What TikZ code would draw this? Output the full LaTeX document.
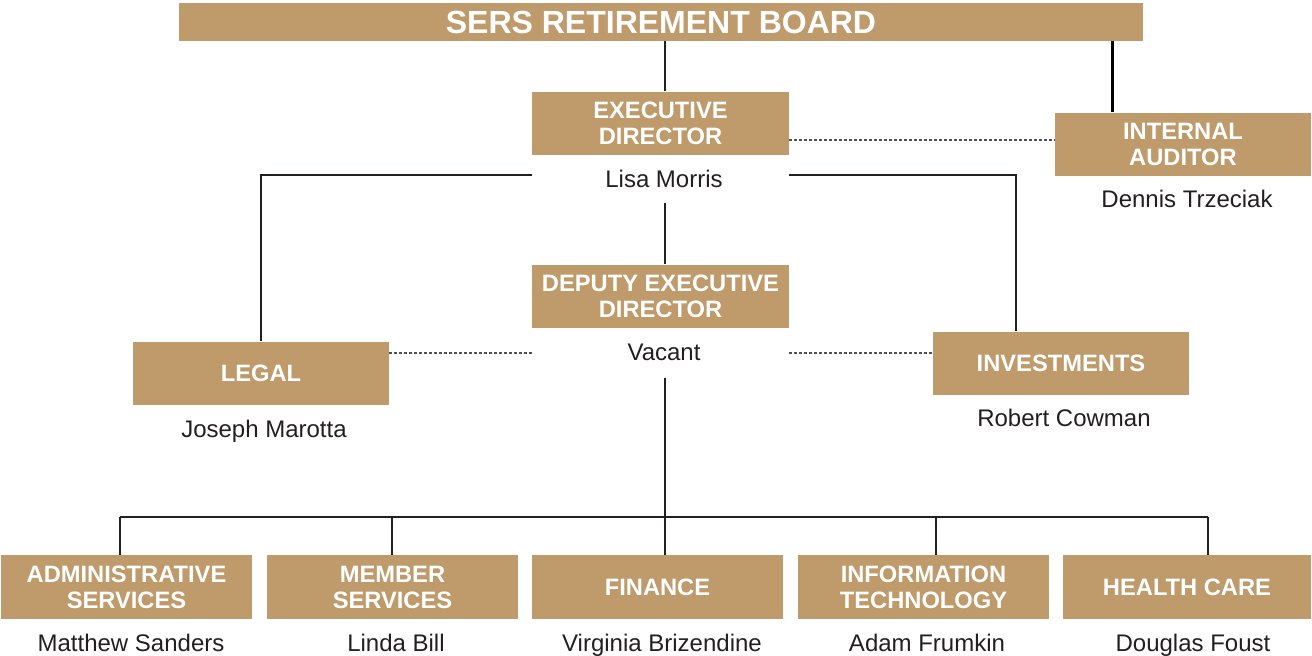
\documentclass[tikz,border=0pt]{standalone}
\usepackage{fontspec}
\setmainfont{Liberation Sans}
\definecolor{tan}{RGB}{191,154,106}
\definecolor{ink}{RGB}{35,31,32}
\definecolor{dashgray}{RGB}{80,80,80}
\tikzset{
  box/.style={fill=tan, draw=none, text=white, font=\bfseries\fontsize{23.7}{26}\selectfont, align=center, inner sep=0pt, minimum width=#1, minimum height=63},
  box/.default=257,
  person/.style={text=ink, font=\fontsize{24}{26}\selectfont, inner sep=0pt, anchor=base},
  link/.style={draw=ink, line width=1.1pt},
  dotlink/.style={draw=dashgray, line width=1.3pt, dash pattern=on 3pt off 2pt},
  thick link/.style={draw=black, line width=3pt}
}
\begin{document}
\begin{tikzpicture}[x=1pt,y=-1pt]
\useasboundingbox (0,0) rectangle (1312,656);
% boxes
\node[box=964, minimum height=38, font=\bfseries\fontsize{32}{34}\selectfont] (board) at (661,22) {SERS RETIREMENT BOARD};
\node[box] (exec) at (660.5,123) {EXECUTIVE\\DIRECTOR};
\node[person] (lisa) at (664,187) {Lisa Morris};
\node[box=256] (audit) at (1183,144) {INTERNAL\\AUDITOR};
\node[person] (dennis) at (1187,207) {Dennis Trzeciak};
\node[box] (deputy) at (660.5,296) {DEPUTY EXECUTIVE\\DIRECTOR};
\node[person] (vacant) at (664,360) {Vacant};
\node[box=256] (legal) at (261,373) {LEGAL};
\node[person] (joseph) at (264,437) {Joseph Marotta};
\node[box=256] (invest) at (1061,363) {INVESTMENTS};
\node[person] (robert) at (1064,426) {Robert Cowman};
\node[box=251, minimum height=64] (admin) at (126.5,587) {ADMINISTRATIVE\\SERVICES};
\node[box=251, minimum height=64] (member) at (392.5,587) {MEMBER\\SERVICES};
\node[box=251, minimum height=64] (finance) at (657.5,587) {FINANCE};
\node[box=251, minimum height=64] (it) at (923.5,587) {INFORMATION\\TECHNOLOGY};
\node[box=248, minimum height=64] (health) at (1187,587) {HEALTH CARE};
\node[person] at (131,651) (matthew) {Matthew Sanders};
\node[person] at (396,651) (linda) {Linda Bill};
\node[person] at (662,651) (virginia) {Virginia Brizendine};
\node[person] at (927,651) (adam) {Adam Frumkin};
\node[person] at (1193,651) (douglas) {Douglas Foust};
% coordinates
\coordinate (lisaL) at (532,175);
\coordinate (lisaR) at (789,175);
\coordinate (lisaB) at (665,203);
\coordinate (vacB) at (665,378);
\coordinate (vacL) at (532,353);
\coordinate (vacR) at (789,353);
\coordinate (d1) at (120,517);
\coordinate (d2) at (392,517);
\coordinate (d4) at (936,517);
\coordinate (d5) at (1208,517);
% connectors
\draw[link] (board.south -| 665,0) -- (exec.north -| 665,0);
\draw[thick link] (board.south -| 1112,0) -- (audit.north -| 1112,0);
\draw[dotlink] (exec.east |- 0,140) -- (audit.west |- 0,140);
\draw[link] (lisaL) -| (legal.north -| 261,0);
\draw[link] (lisaR) -| (invest.north -| 1016,0);
\draw[link] (lisaB) -- (deputy.north -| lisaB);
\draw[dotlink] (legal.east |- vacL) -- (vacL);
\draw[dotlink] (vacR) -- (invest.west |- vacR);
\draw[link] (vacB) -- (finance.north -| vacB);
\draw[link] (d1) -- (d5);
\draw[link] (d1) -- (admin.north -| d1);
\draw[link] (d2) -- (member.north -| d2);
\draw[link] (d4) -- (it.north -| d4);
\draw[link] (d5) -- (health.north -| d5);
\end{tikzpicture}
\end{document}
